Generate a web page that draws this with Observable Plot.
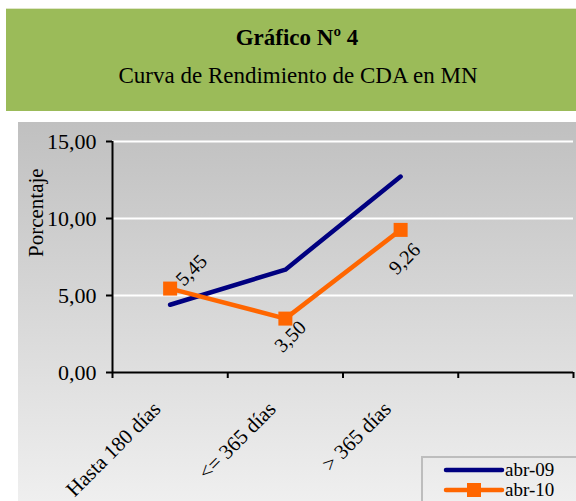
<!DOCTYPE html>
<html>
<head>
<meta charset="utf-8">
<script src="https://cdn.jsdelivr.net/npm/d3@7"></script>
<script src="https://cdn.jsdelivr.net/npm/@observablehq/plot@0.6"></script>
<style>
  html, body { margin: 0; padding: 0; background: #fff; }
  body { width: 576px; height: 501px; overflow: hidden; position: relative; font-family: 'Liberation Serif', serif; }
  #header { position: absolute; left: 6px; top: 8px; width: 580px; height: 103px; background: #9bbb59; border-top: 1px solid #dfe6c8; box-sizing: border-box; }
  #title { position: absolute; left: 0; width: 594px; top: 24px; text-align: center; font-weight: bold; font-size: 23px; line-height: 28px; color: #000; font-family: 'Liberation Serif', serif; }
  #subtitle { position: absolute; left: 0; width: 596px; top: 62px; text-align: center; font-size: 23px; line-height: 28px; color: #000; font-family: 'Liberation Serif', serif; }
  #chart { position: absolute; left: 18px; top: 122px; width: 558px; height: 379px; background: linear-gradient(to bottom, #c0c0c0 0%, #efefef 100%); }
  #chart svg { background: transparent; display: block; }
  #chart svg text { font-family: 'Liberation Serif', serif; }
  #legend { position: absolute; left: 421px; top: 456px; width: 200px; height: 60px; border: 2px solid #bdbdbd; box-sizing: border-box; }
  #legend text { font-family: 'Liberation Serif', serif; }
</style>
</head>
<body>
<div id="header"></div>
<div id="title">Gráfico Nº 4</div>
<div id="subtitle">Curva de Rendimiento de CDA en MN</div>
<div id="chart"></div>
<div id="legend"></div>
<script>
const categories = ["Hasta 180 días", "<= 365 días", "> 365 días"];
const seriesNames = ["abr-09", "abr-10"];
const abr09 = [4.40, 6.68, 12.72];
const abr10 = [5.45, 3.50, 9.26];
const yTicks = [0, 5, 10, 15];
const xSlots = 4; // the chart reserves four category slots, the last is empty

const navy = "#000080";
const orange = "#ff6600";
const fmt = d => d.toFixed(2).replace(".", ",");

const d09 = abr09.map((v, i) => ({x: i + 0.5, y: v, cat: categories[i]}));
const d10 = abr10.map((v, i) => ({x: i + 0.5, y: v, cat: categories[i], label: fmt(v), i}));
const cats = categories.map((c, i) => ({x: i + 0.5, name: c}));
const font = "'Liberation Serif', serif";

const plot = Plot.plot({
  width: 558,
  height: 379,
  marginLeft: 94,
  marginRight: 3,
  marginTop: 19,
  marginBottom: 129,
  style: {background: "transparent", fontFamily: font, color: "#000", overflow: "visible"},
  x: {domain: [0, xSlots], axis: null},
  y: {domain: [0, 15], axis: null},
  marks: [
    Plot.ruleY(yTicks.filter(d => d > 0), {stroke: "white", strokeWidth: 2}),
    Plot.axisY({ticks: yTicks, tickFormat: fmt, tickSize: 6, tickPadding: 10, fontSize: 22, stroke: "#000", strokeWidth: 2, label: null}),
    Plot.axisX({ticks: d3.range(xSlots + 1), tickFormat: () => "", tickSize: 6, stroke: "#000", strokeWidth: 2, label: null}),
    Plot.ruleX([0], {stroke: "#000", strokeWidth: 2}),
    Plot.ruleY([0], {stroke: "#000", strokeWidth: 2}),
    Plot.text(cats, {x: "x", y: () => 0, text: "name", rotate: -45, textAnchor: "end", dx: -13, dy: 33, fontSize: 21, fill: "#000"}),
    Plot.text(["Porcentaje"], {frameAnchor: "left", rotate: -90, dx: -76, fontSize: 21, fill: "#000"}),
    Plot.line(d09, {x: "x", y: "y", stroke: navy, strokeWidth: 4.5, strokeLinecap: "round"}),
    Plot.line(d10, {x: "x", y: "y", stroke: orange, strokeWidth: 4.5}),
    Plot.dot(d10, {x: "x", y: "y", symbol: "square", r: 7.9, fill: orange, stroke: null}),
    Plot.text(d10.filter(d => d.i === 0), {x: "x", y: "y", text: "label", rotate: -45, textAnchor: "start", dx: 9, dy: -6, fontSize: 20, fill: "#000"}),
    Plot.text(d10.filter(d => d.i === 1), {x: "x", y: "y", text: "label", rotate: -45, textAnchor: "middle", dx: 5, dy: 18, fontSize: 20, fill: "#000"}),
    Plot.text(d10.filter(d => d.i === 2), {x: "x", y: "y", text: "label", rotate: -45, textAnchor: "middle", dx: 4, dy: 29, fontSize: 20, fill: "#000"})
  ]
});
document.getElementById("chart").appendChild(plot);

// legend
const lg = d3.select("#legend").append("svg").attr("width", 200).attr("height", 60).style("display", "block");
const colors = [navy, orange];
seriesNames.forEach((name, k) => {
  const y = 12 + k * 20;
  lg.append("line").attr("x1", 23).attr("x2", 79).attr("y1", y).attr("y2", y)
    .attr("stroke", colors[k]).attr("stroke-width", 4.5).attr("stroke-linecap", "round");
  if (k === 1) lg.append("rect").attr("x", 44).attr("y", y - 7).attr("width", 14).attr("height", 14).attr("fill", orange);
  lg.append("text").attr("x", 82).attr("y", y + 6).attr("font-size", 19).text(name);
});
</script>
</body>
</html>
